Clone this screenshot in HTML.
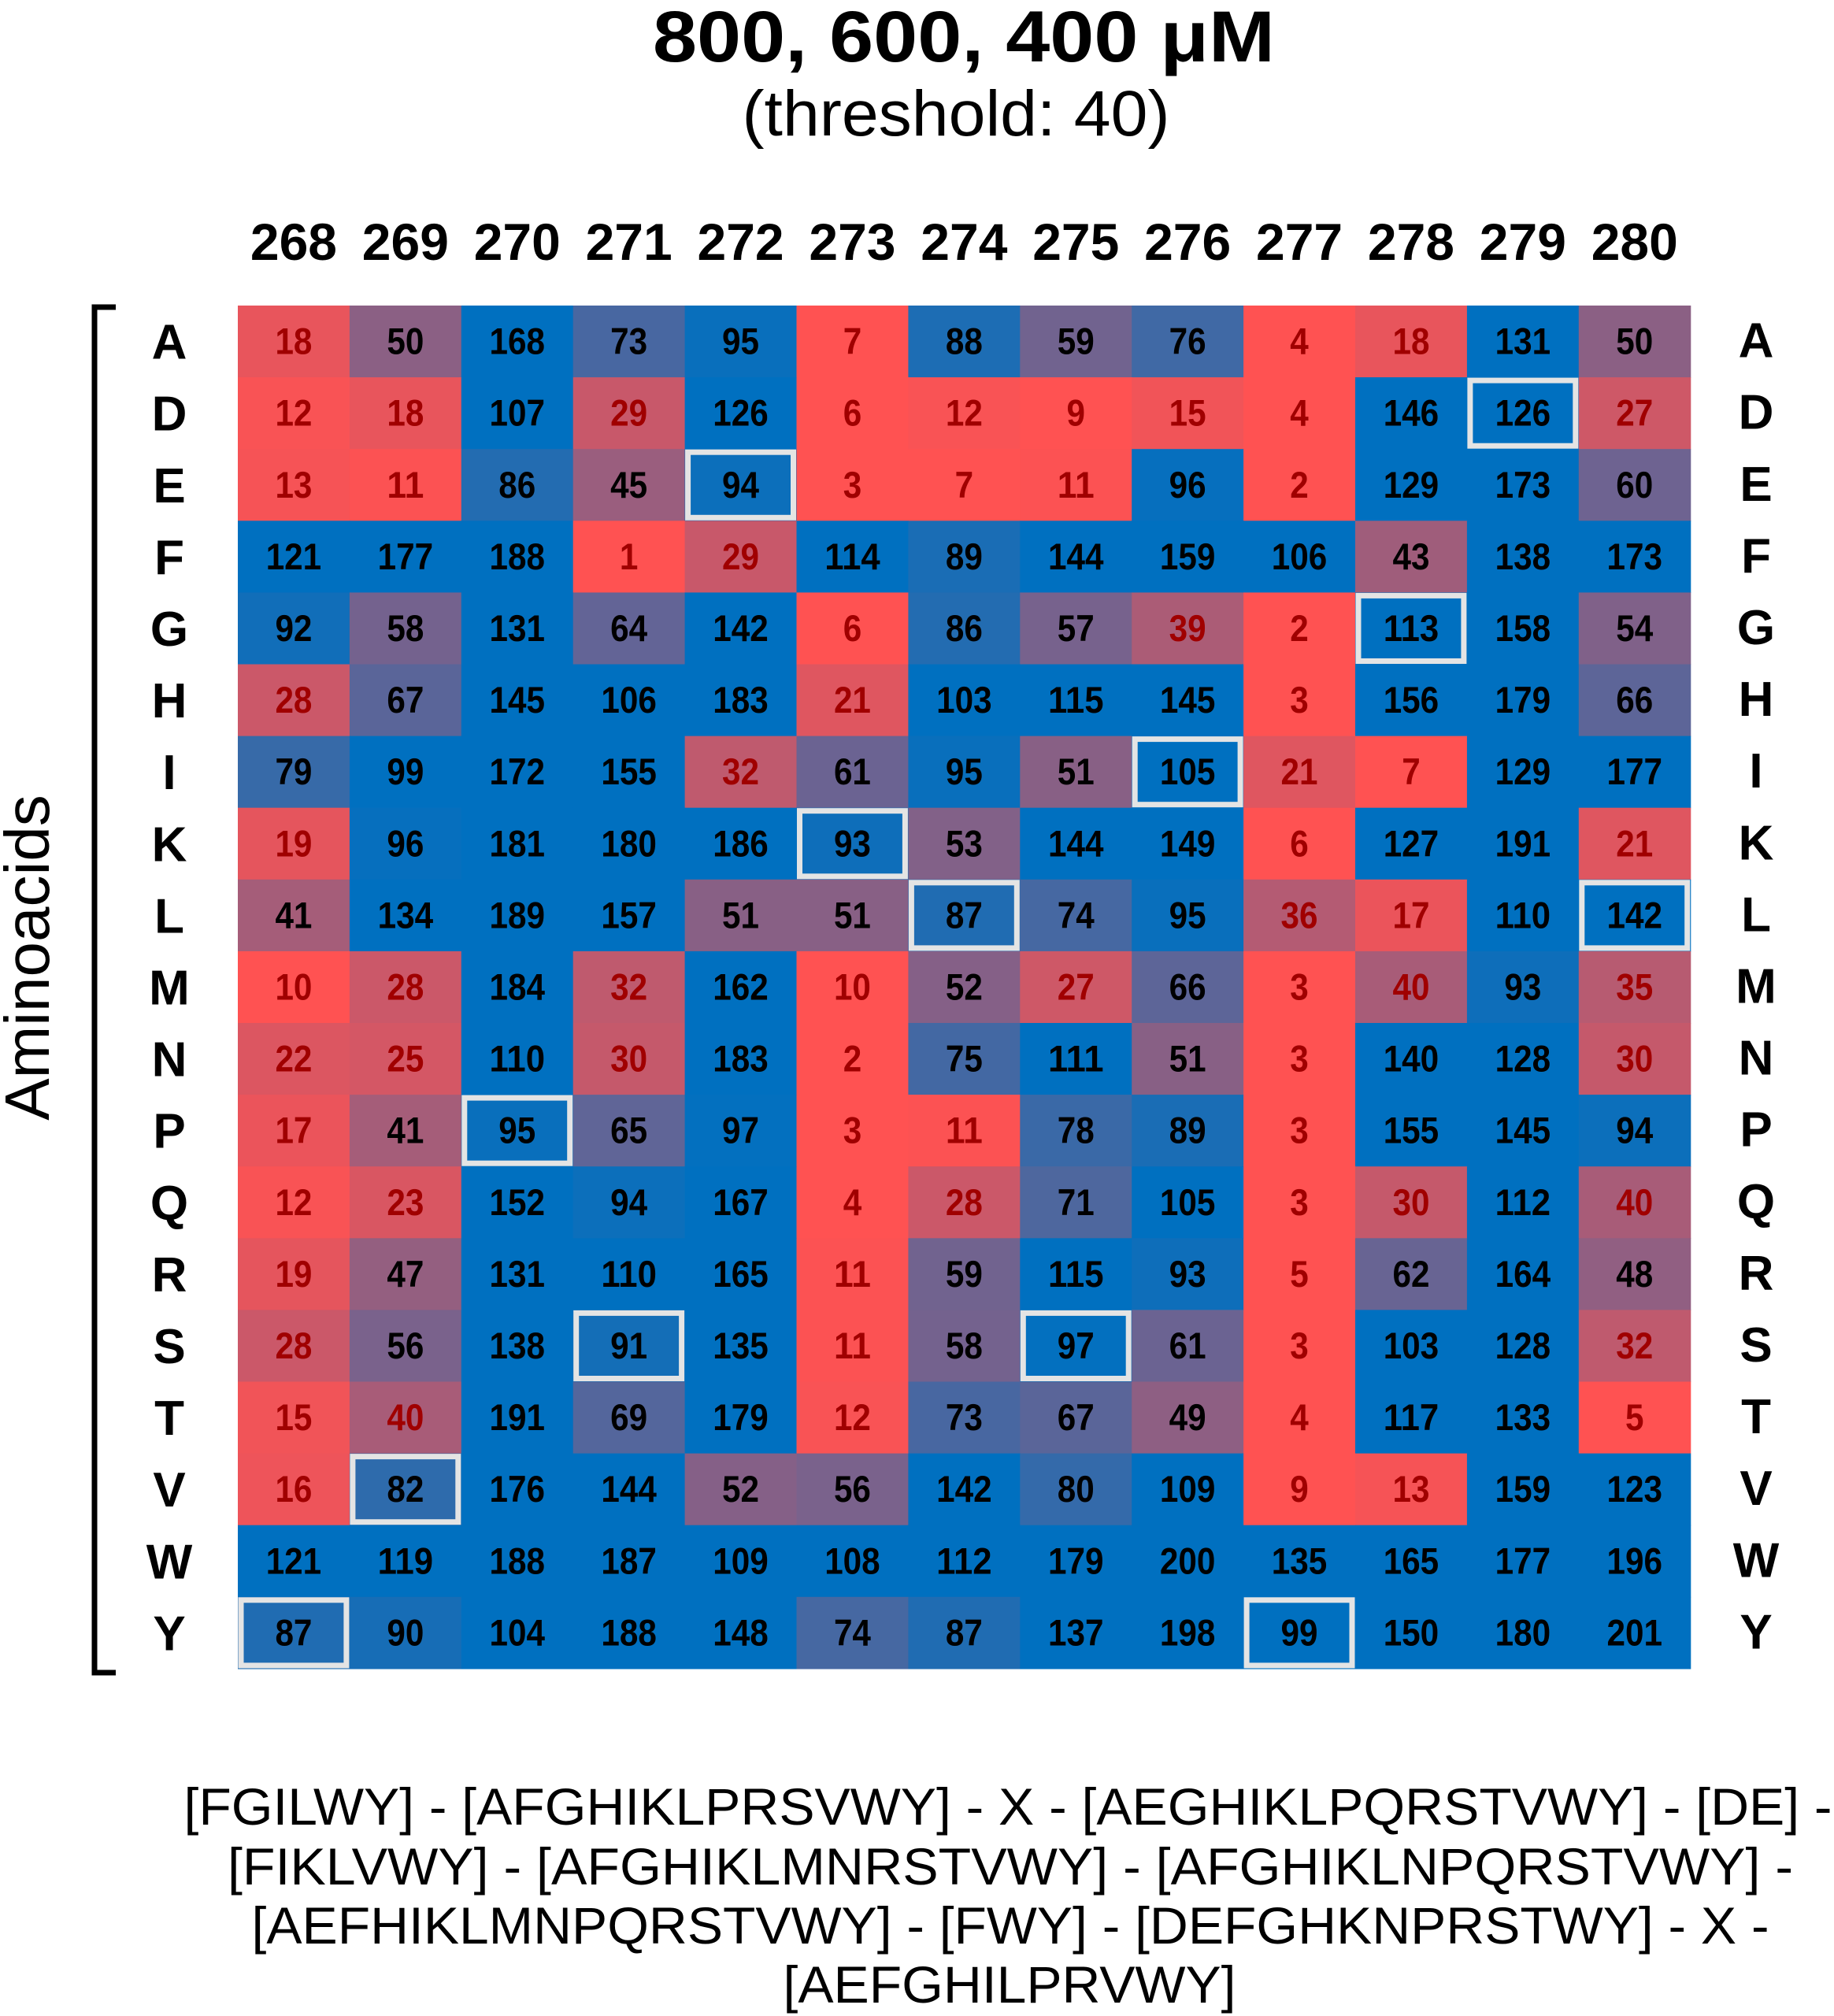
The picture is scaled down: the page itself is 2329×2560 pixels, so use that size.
<!DOCTYPE html>
<html><head><meta charset="utf-8"><style>
html,body{margin:0;padding:0;background:#fff;}
svg{display:block;}
text{font-family:"Liberation Sans",Arial,sans-serif;}
</style></head><body>
<svg id="s" width="2329" height="2560" viewBox="0 0 2329 2560" xmlns="http://www.w3.org/2000/svg">
<rect width="2329" height="2560" fill="#fff"/>
<text x="1224" y="78" font-size="92" font-weight="bold" text-anchor="middle" textLength="790" lengthAdjust="spacingAndGlyphs">800, 600, 400 μM</text>
<text x="1214" y="172" font-size="82" text-anchor="middle" textLength="543" lengthAdjust="spacingAndGlyphs">(threshold: 40)</text>
<g id="hdr"></g>
<g id="grid"></g>
<path d="M147,390 H120 V2124 H147" fill="none" stroke="#000" stroke-width="7"/>
<text transform="translate(62,1216) rotate(-90)" font-size="80" text-anchor="middle">Aminoacids</text>
<g font-size="66" text-anchor="middle">
<text x="1280" y="2317" textLength="2093" lengthAdjust="spacingAndGlyphs">[FGILWY] - [AFGHIKLPRSVWY] - X - [AEGHIKLPQRSTVWY] - [DE] -</text>
<text x="1283" y="2393" textLength="1988" lengthAdjust="spacingAndGlyphs">[FIKLVWY] - [AFGHIKLMNRSTVWY] - [AFGHIKLNPQRSTVWY] -</text>
<text x="1283" y="2468" textLength="1927" lengthAdjust="spacingAndGlyphs">[AEFHIKLMNPQRSTVWY] - [FWY] - [DEFGHKNPRSTWY] - X -</text>
<text x="1282" y="2543" textLength="575" lengthAdjust="spacingAndGlyphs">[AEFGHILPRVWY]</text>
</g>
</svg>
<script>
var rows="ADEFGHIKLMNPQRSTVWY".split("");
var D=[
[18,50,168,73,95,7,88,59,76,4,18,131,50],
[12,18,107,29,126,6,12,9,15,4,146,126,27],
[13,11,86,45,94,3,7,11,96,2,129,173,60],
[121,177,188,1,29,114,89,144,159,106,43,138,173],
[92,58,131,64,142,6,86,57,39,2,113,158,54],
[28,67,145,106,183,21,103,115,145,3,156,179,66],
[79,99,172,155,32,61,95,51,105,21,7,129,177],
[19,96,181,180,186,93,53,144,149,6,127,191,21],
[41,134,189,157,51,51,87,74,95,36,17,110,142],
[10,28,184,32,162,10,52,27,66,3,40,93,35],
[22,25,110,30,183,2,75,111,51,3,140,128,30],
[17,41,95,65,97,3,11,78,89,3,155,145,94],
[12,23,152,94,167,4,28,71,105,3,30,112,40],
[19,47,131,110,165,11,59,115,93,5,62,164,48],
[28,56,138,91,135,11,58,97,61,3,103,128,32],
[15,40,191,69,179,12,73,67,49,4,117,133,5],
[16,82,176,144,52,56,142,80,109,9,13,159,123],
[121,119,188,187,109,108,112,179,200,135,165,177,196],
[87,90,104,188,148,74,87,137,198,99,150,180,201]];
var box={"1,11":1,"2,4":1,"4,10":1,"6,8":1,"7,5":1,"8,6":1,"8,12":1,"11,2":1,"14,3":1,"14,7":1,"16,1":1,"18,0":1,"18,9":1};
var x0=302,cw=141.9,y0=388,rh=91.1,ns="http://www.w3.org/2000/svg";
function el(t,a,p,txt){var e=document.createElementNS(ns,t);for(var k in a)e.setAttribute(k,a[k]);if(txt!=null)e.textContent=txt;p.appendChild(e);return e;}
var g=document.getElementById("grid"),h=document.getElementById("hdr");
var R=[255,82,82],B=[0,112,192];
for(var c=0;c<13;c++)el("text",{x:x0+cw*(c+0.5),y:330,"font-size":66,"font-weight":"bold","text-anchor":"middle"},h,String(268+c));
for(var r=0;r<19;r++){
 var cy=y0+rh*(r+0.5);
 el("text",{x:215,y:cy+22,"font-size":62,"font-weight":"bold","text-anchor":"middle"},g,rows[r]);
 el("text",{x:2230,y:cy+20,"font-size":62,"font-weight":"bold","text-anchor":"middle"},g,rows[r]);
 for(var c=0;c<13;c++){
  var v=D[r][c],t=Math.max(0,Math.min(1,(v-10)/88));
  var col="rgb("+[0,1,2].map(function(i){return Math.round(R[i]+(B[i]-R[i])*t)}).join(",")+")";
  var x=x0+cw*c,y=y0+rh*r;
  el("rect",{x:x,y:y,width:cw+0.6,height:rh+0.6,fill:col},g);
  if(box[r+","+c])el("rect",{x:x+4,y:y+4,width:cw-8,height:rh-8,fill:"none",stroke:"#e4e4e4","stroke-width":7},g);
  var s=String(v),a={x:x+cw/2,y:cy+16,"font-size":47,"font-weight":"bold","text-anchor":"middle",fill:v<=40?"#a00000":"#000"};
  a.textLength=s.length*23.5;a.lengthAdjust="spacingAndGlyphs";
  el("text",a,g,s);
 }
}
</script>
</body></html>
